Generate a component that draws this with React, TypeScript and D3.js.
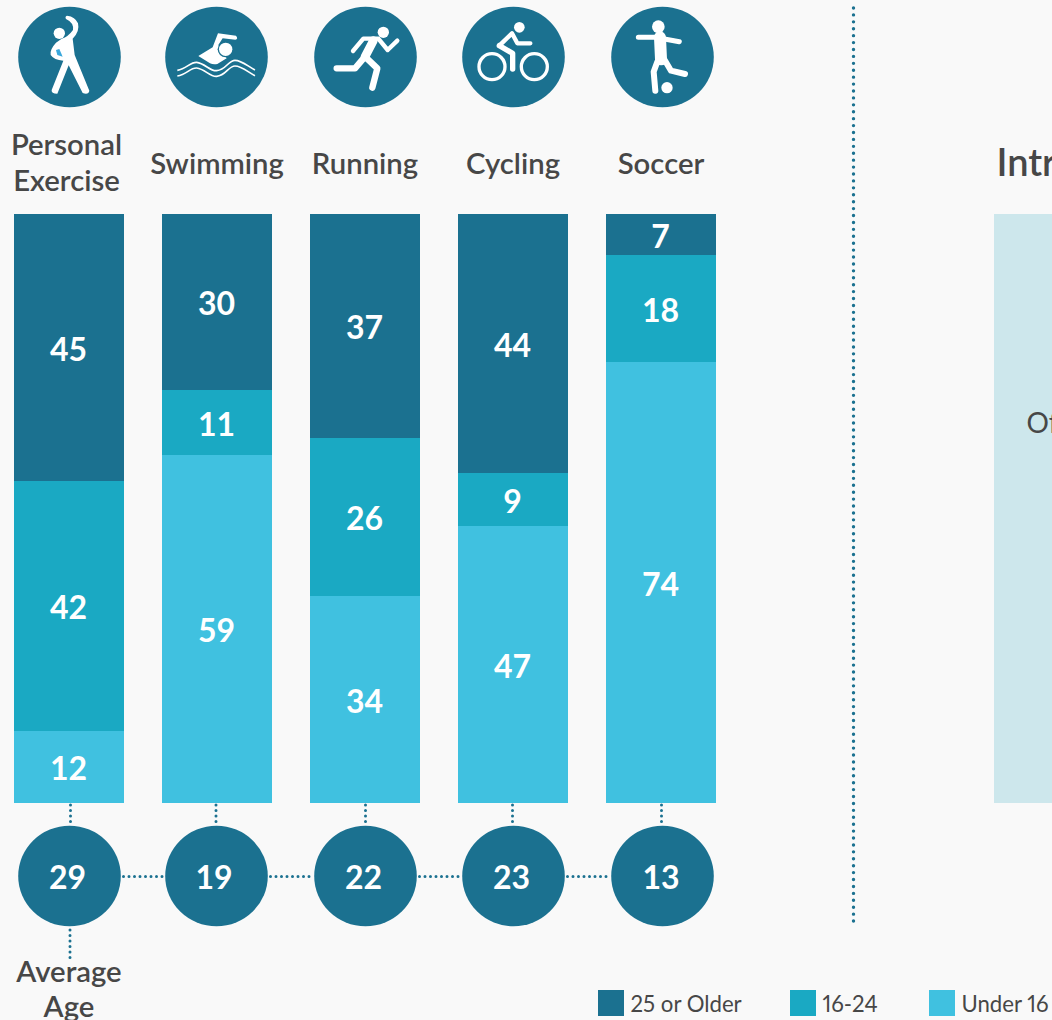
import React from "react";
import * as d3 from "d3";

const categories = ["Personal Exercise", "Swimming", "Running", "Cycling", "Soccer"];
const olderValues = [45, 30, 37, 44, 7];
const middleValues = [42, 11, 26, 9, 18];
const youngValues = [12, 59, 34, 47, 74];
const averageAges = [29, 19, 22, 23, 13];
const seriesNames = ["25 or Older", "16-24", "Under 16"];

const DARK = "#1b7190";
const MID = "#1aa9c3";
const LIGHT = "#40c1e0";
const TEXT = "#474747";
const BG = "#f9f9f9";
const FONT = "Lato, sans-serif";

const circleNudge = [0.5, -0.5, 0.5, 0.5, 1.5];
const ageTextNudge = [-2, -2.5, -2, -2, -1.5];
const labelNudge = [-2.5, 0, 0, 0, 0];
const stemNudge = [1.5, -1, 0.5, -0.5, 0.5];

const rows = categories.map((c, i) => ({
  category: c,
  older: olderValues[i],
  middle: middleValues[i],
  young: youngValues[i],
}));
const keys = ["older", "middle", "young"];
const colors = d3.scaleOrdinal<string, string>().domain(keys).range([DARK, MID, LIGHT]);
const stacked = d3.stack<any>().keys(keys).offset(d3.stackOffsetExpand)(rows);
const x = d3.scaleBand().domain(categories).range([14, 716]).paddingInner(38 / 148);
const yScale = d3.scaleLinear().domain([0, 1]).range([214, 803]);
const y = (v: number) => Math.floor(yScale(v) + 1e-6);

const Icons = () => (
  <g fill="#fff" stroke="none">
    <g transform="scale(0.33333)">
      <circle cx={178} cy={100} r={17} />
      <path d="M168,128 Q148,150 152,165 Q162,180 190,182 L155,270 Q153,281 172,281 L206,196 L248,279 Q266,285 268,272 L224,165 L218,116 Q240,95 234,70 Q226,50 201,47 Q194,50 198,57 Q222,68 219,90 Q205,110 185,116 Z" />
      <path d="M168,150 L178,147 L188,170 L172,165 Z" fill="#3ba8dc" />
      <path d="M595,168 L638,142 L654,100 L708,107 Q716,116 706,119 L668,115 L655,135 L680,175 L652,192 Q640,195 630,190 Z" />
      <circle cx={677} cy={148} r={24} fill={DARK} />
      <circle cx={677} cy={148} r={20} />
      <g fill="none" stroke="#fff" strokeWidth={5}>
        <path d="M532,211 C560,207 570,186 590,187 C615,190 630,214 650,212 C678,210 685,181 705,181 C725,181 745,200 765,210" />
        <path d="M532,228 C560,224 570,203 590,204 C615,207 630,231 650,229 C678,227 685,198 705,198 C725,198 745,217 765,227" />
      </g>
    </g>
    <g transform="translate(290,0) scale(0.33333)">
      <circle cx={280} cy={97} r={17} />
      <g fill="none" stroke="#fff" strokeLinecap="round" strokeLinejoin="round">
        <path d="M140,205 L195,205 L225,170 L262,205 L247,263" strokeWidth={19} />
        <path d="M225,170 L250,122" strokeWidth={26} />
        <path d="M189,153 L220,116 L265,116 L293,150 L322,122" strokeWidth={13} />
      </g>
      <circle cx={688} cy={82} r={16} />
      <g fill="none" stroke="#fff" strokeLinecap="round" strokeLinejoin="round">
        <circle cx={606} cy={200} r={39} strokeWidth={10} />
        <circle cx={733} cy={200} r={39} strokeWidth={10} />
        <path d="M628,137 L666,100 L682,130 L721,130" strokeWidth={13} />
        <path d="M628,137 L668,160 L668,207" strokeWidth={16} />
      </g>
      <circle cx={1105} cy={80} r={19} />
      <circle cx={1131} cy={263} r={17} />
      <g fill="none" stroke="#fff" strokeLinecap="round" strokeLinejoin="round">
        <path d="M1045,112 L1095,112 L1168,125" strokeWidth={15} />
        <path d="M1110,112 L1113,178" strokeWidth={36} />
        <path d="M1102,185 L1091,215 L1096,272" strokeWidth={18} />
        <path d="M1124,180 L1143,212 L1185,222" strokeWidth={18} />
      </g>
    </g>
  </g>
);

export default function App() {
  const bw = x.bandwidth();
  const center = (c: string) => (x(c) as number) + bw / 2;
  const legendX = d3.scaleOrdinal<string, number>().domain(seriesNames).range([598, 790, 929]);
  const legendColor = d3.scaleOrdinal<string, string>().domain(seriesNames).range([DARK, MID, LIGHT]);
  const dot = { stroke: DARK, strokeWidth: 3.4, strokeLinecap: "round" as const, fill: "none" };

  return (
    <svg width={1052} height={1020} viewBox="0 0 1052 1020"
      style={{ position: "absolute", left: 0, top: 0, display: "block" }} fontFamily={FONT}>
      <rect width={1052} height={1020} fill={BG} />

      {/* divider */}
      <line x1={853.5} x2={853.5} y1={8} y2={922} {...dot} strokeDasharray="0 6.917" />

      {/* right panel */}
      <rect x={994} y={214} width={58} height={589} fill="#cde7ec" />
      <text x={996.5} y={176} fontSize={38} fontWeight={600} fill={TEXT}>Intr</text>
      <text x={1026.5} y={433} fontSize={28} fill={TEXT}>Of</text>

      {/* connectors */}
      {categories.map((c, i) => (
        <line key={c} x1={center(c) + stemNudge[i]} x2={center(c) + stemNudge[i]} y1={805} y2={826}
          {...dot} strokeWidth={3} strokeDasharray="0 5.5" />
      ))}
      <line x1={70} x2={70} y1={930} y2={958} {...dot} strokeWidth={3} strokeDasharray="0 5.5" />
      {categories.slice(1).map((c, i) => (
        <line key={c} x1={center(categories[i]) + circleNudge[i] + 54} x2={center(c) + circleNudge[i + 1] - 51}
          y1={876.5} y2={876.5} {...dot} strokeWidth={3} strokeDasharray="0 5.5" />
      ))}

      {/* icons */}
      {categories.map((c, i) => (
        <ellipse key={c} cx={center(c) + circleNudge[i]} cy={57} rx={51.3} ry={50.3} fill={DARK} />
      ))}
      <Icons />

      {/* category labels */}
      <g fontSize={29.3} fontWeight={600} fill={TEXT} textAnchor="middle">
        {categories.map((c, i) => {
          const parts = i === 0 ? c.split(" ") : [c];
          const y0 = i === 0 ? 155 : 174;
          return (
            <text key={c} x={center(c) + labelNudge[i]} y={y0}>
              {parts.map((p, j) => (
                <tspan key={p} x={center(c) + labelNudge[i]} y={y0 + j * 36}>{p}</tspan>
              ))}
            </text>
          );
        })}
      </g>

      {/* bars */}
      {stacked.map((s) => (
        <g key={s.key} fill={colors(s.key)}>
          {s.map((d: any) => (
            <rect key={d.data.category} x={x(d.data.category)} width={bw}
              y={y(d[0])} height={y(d[1]) - y(d[0])} />
          ))}
        </g>
      ))}
      {stacked.map((s) => (
        <g key={s.key} fill="#fff" fontSize={32} fontWeight={700} textAnchor="middle">
          {s.map((d: any) => (
            <text key={d.data.category} x={center(d.data.category) - 0.5}
              y={(y(d[0]) + y(d[1])) / 2 + 13}>{d.data[s.key]}</text>
          ))}
        </g>
      ))}

      {/* average age */}
      {categories.map((c, i) => (
        <g key={c}>
          <ellipse cx={center(c) + circleNudge[i]} cy={876} rx={51.3} ry={50.3} fill={DARK} />
          <text x={center(c) + circleNudge[i] + ageTextNudge[i]} y={889} fontSize={32} fontWeight={700}
            fill="#fff" textAnchor="middle">{averageAges[i]}</text>
        </g>
      ))}
      <g fontSize={29.3} fontWeight={600} fill={TEXT} textAnchor="middle">
        <text x={69} y={982}>Average</text>
        <text x={69} y={1017}>Age</text>
      </g>

      {/* legend */}
      {seriesNames.map((n) => (
        <g key={n}>
          <rect x={legendX(n)} y={990} width={26} height={26} fill={legendColor(n)} />
          <text x={legendX(n) + 32.5} y={1012} fontSize={22.2} fill={TEXT}
            style={{ fontVariantNumeric: "proportional-nums" }}>{n}</text>
        </g>
      ))}
    </svg>
  );
}
